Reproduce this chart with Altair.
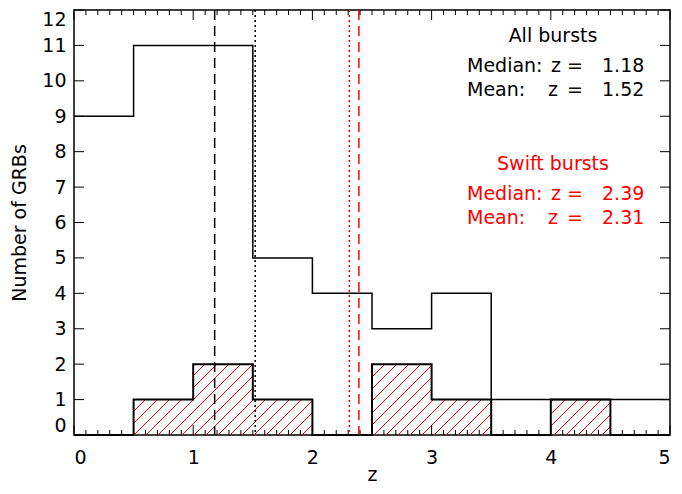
import altair as alt
import pandas as pd

# ---------------- data ----------------
bin_edges = [0.0, 0.5, 1.0, 1.5, 2.0, 2.5, 3.0, 3.5, 4.0, 4.5, 5.0]
all_counts = [9, 11, 11, 5, 4, 3, 4, 1, 1, 1]
swift_counts = [0, 1, 2, 1, 0, 2, 1, 0, 1, 0]
all_median = 1.18
all_mean = 1.52
swift_median = 2.39
swift_mean = 2.31
x_major = [0, 1, 2, 3, 4, 5]
x_minor = [i / 10 for i in range(51) if i % 10]
y_major = list(range(13))

# ---------------- layout ----------------
PAD_L, PAD_T = 66, 2
OX, OY = 8 + PAD_L, 8 + PAD_T          # plot origin on the page
W, H = 596, 425
XMAX, YMAX = 5, 12
FONT = "DejaVu Sans"
FS = 19

xs = alt.Scale(domain=[0, XMAX], nice=False, zero=False)
ys = alt.Scale(domain=[0, YMAX], nice=False, zero=False)

# step histograms
all_df = pd.DataFrame({"z": bin_edges, "n": all_counts + [all_counts[-1]]})
swift_df = pd.DataFrame({"z": bin_edges, "n": swift_counts + [swift_counts[-1]]})

all_step = alt.Chart(all_df).mark_line(
    interpolate="step-after", color="black", strokeWidth=1.5
).encode(
    x=alt.X("z:Q", scale=xs, title="z",
            axis=alt.Axis(values=x_major, ticks=False, domain=False, grid=False,
                          labelPadding=13, format="d",
                          titleY=45, titleBaseline="alphabetic")),
    y=alt.Y("n:Q", scale=ys, title="Number of GRBs",
            axis=alt.Axis(values=y_major, ticks=False, domain=False, grid=False,
                          labelPadding=8, labelFlush=True, format="d",
                          titleX=-55, titleY=H / 2, titleAngle=270,
                          titleAlign="center", titleBaseline="middle")),
)

swift_step = alt.Chart(swift_df).mark_line(
    interpolate="step-after", color="black", strokeWidth=2
).encode(
    x=alt.X("z:Q", scale=xs, axis=None),
    y=alt.Y("n:Q", scale=ys, axis=None),
)

# hatch segments clipped to the Swift bars (45 degrees in pixel space)
spacing = 12.0
sx, sy = W / XMAX, H / YMAX
segs = []
for i, c in enumerate(swift_counts):
    if c <= 0:
        continue
    X0, X1 = bin_edges[i] * sx, bin_edges[i + 1] * sx
    Y1 = c * sy
    kmin = int((X0 - Y1) // spacing) - 1
    kmax = int(X1 // spacing) + 1
    for k in range(kmin, kmax + 1):
        c0 = k * spacing
        a = max(X0, c0)
        b = min(X1, c0 + Y1)
        if b - a > 0.5:
            segs.append({"x": a / sx, "y": (a - c0) / sy,
                         "x2": b / sx, "y2": (b - c0) / sy})
hatch_df = pd.DataFrame(segs)
hatch = alt.Chart(hatch_df).mark_rule(color="red", strokeWidth=1).encode(
    x=alt.X("x:Q", scale=xs, axis=None),
    y=alt.Y("y:Q", scale=ys, axis=None),
    x2="x2:Q",
    y2="y2:Q",
)

# vertical reference lines
def vline(val, color, dash):
    return alt.Chart(pd.DataFrame({"v": [val]})).mark_rule(
        color=color, strokeDash=dash, strokeWidth=1.5
    ).encode(x=alt.X("v:Q", scale=xs, axis=None))

vlines = [
    vline(all_median, "black", [10, 6]),
    vline(all_mean, "black", [2, 3]),
    vline(swift_mean, "red", [2, 3]),
    vline(swift_median, "red", [10, 6]),
]

# inward ticks
def xticks(vals, length, top):
    y0 = 0 if top else H
    y1 = length if top else H - length
    return alt.Chart(pd.DataFrame({"t": vals})).mark_rule(
        color="black", strokeWidth=1
    ).encode(x=alt.X("t:Q", scale=xs, axis=None), y=alt.value(y0), y2=alt.value(y1))

def yticks(vals, length, right):
    x0 = W if right else 0
    x1 = W - length if right else length
    return alt.Chart(pd.DataFrame({"t": vals})).mark_rule(
        color="black", strokeWidth=1
    ).encode(y=alt.Y("t:Q", scale=ys, axis=None), x=alt.value(x0), x2=alt.value(x1))

ticks = [
    xticks(x_major, 10, False), xticks(x_major, 10, True),
    xticks(x_minor, 5, False), xticks(x_minor, 5, True),
    yticks(y_major, 10, False), yticks(y_major, 10, True),
]

# annotations (page placement of the text block, converted to plot pixels)
LX, ZX, EQX, VX = 467, 551, 575, 602
rows = [
    ("All bursts", 553, 36, "center", "black"),
    ("Median:", LX, 66, "left", "black"),
    ("z", ZX, 66, "left", "black"),
    ("=", EQX, 66, "center", "black"),
    (f"{all_median:.2f}", VX, 66, "left", "black"),
    ("Mean:", LX, 90, "left", "black"),
    ("z", ZX - 3, 90, "left", "black"),
    ("=", EQX, 90, "center", "black"),
    (f"{all_mean:.2f}", VX, 90, "left", "black"),
    ("Swift bursts", 553, 164, "center", "red"),
    ("Median:", LX, 194, "left", "red"),
    ("z", ZX, 194, "left", "red"),
    ("=", EQX, 194, "center", "red"),
    (f"{swift_median:.2f}", VX, 194, "left", "red"),
    ("Mean:", LX, 218, "left", "red"),
    ("z", ZX - 3, 218, "left", "red"),
    ("=", EQX, 218, "center", "red"),
    (f"{swift_mean:.2f}", VX, 218, "left", "red"),
]
ann = pd.DataFrame(
    [{"t": t, "px": x - OX, "py": y - OY, "al": a, "c": c} for t, x, y, a, c in rows]
)

def text_layer(align):
    sub = ann[ann["al"] == align]
    return alt.Chart(sub).mark_text(
        font=FONT, fontSize=FS, align=align, baseline="middle"
    ).encode(
        x=alt.X("px:Q", scale=None, axis=None),
        y=alt.Y("py:Q", scale=None, axis=None),
        text="t:N",
        color=alt.Color("c:N", scale=None),
    )

texts = [text_layer("left"), text_layer("center")]

chart = alt.layer(
    all_step, hatch, swift_step, *vlines, *ticks, *texts
).resolve_axis(
    x="independent", y="independent"
).properties(
    width=W, height=H,
    autosize=alt.AutoSizeParams(type="none"),
    padding={"left": PAD_L, "top": PAD_T, "right": 4, "bottom": 51},
    background="white",
).configure_view(
    stroke="black", strokeWidth=1.5
).configure_axis(
    labelFont=FONT, labelFontSize=FS, labelColor="black",
    titleFont=FONT, titleFontSize=FS, titleFontWeight="normal", titleColor="black",
)

chart.save("out.html", embed_options={"renderer": "svg", "actions": False})
